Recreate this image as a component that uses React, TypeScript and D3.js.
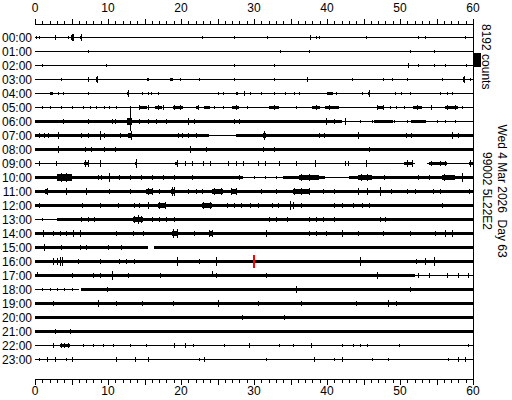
import React from 'react';
import * as d3 from 'd3';

const W = 512;
const H = 400;

const HOUR_LABELS = [
  '00:00', '01:00', '02:00', '03:00', '04:00', '05:00', '06:00', '07:00',
  '08:00', '09:00', '10:00', '11:00', '12:00', '13:00', '14:00', '15:00',
  '16:00', '17:00', '18:00', '19:00', '20:00', '21:00', '22:00', '23:00',
];
const MINUTE_TICKS = [0, 10, 20, 30, 40, 50, 60];
const SCALE_COUNTS = 8192;
const SCALE_TEXT = '8192 counts';
const DATE_TEXT = 'Wed 4 Mar 2026\u00a0 Day 63';
const STATION_TEXT = '99002 5L22E2';

// continuous trace segments per hour: [startMin, endMin, halfAmplitudeCounts]
const SEGMENTS: number[][][] = [
  [[0, 60, 290]],
  [[0, 60, 290]],
  [[0, 60, 290]],
  [[0, 60, 290]],
  [[0, 60, 290]],
  [[0, 19.5, 290], [19.5, 60, 585]],
  [[0, 42, 880], [42, 42.8, 290], [42.8, 60, 585]],
  [[0, 23.8, 880], [23.8, 27.5, 440], [27.5, 60, 880]],
  [[0, 40, 880], [40, 60, 700]],
  [[0, 40, 585], [40, 52.1, 440], [53.7, 60, 585]],
  [[0, 28.5, 880], [28.5, 34, 440], [34, 39.7, 880], [39.7, 43, 585], [43, 60, 880]],
  [[0, 60, 800]],
  [[0, 60, 880]],
  [[0, 3, 585], [3, 60, 880]],
  [[0, 60, 880]],
  [[0, 15.5, 880], [16.3, 60, 880]],
  [[0, 60, 800]],
  [[0, 52, 880], [52, 60, 585]],
  [[0, 6, 440], [6.3, 60, 880]],
  [[0, 60, 880]],
  [[0, 60, 800]],
  [[0, 40, 880], [40, 60, 700]],
  [[0, 60, 290]],
  [[0, 60, 290]],
];

// noisy bursts per hour: [startMin, endMin, halfAmplitudeCounts]
const BURSTS: number[][][] = [
  [[4.9, 5.2, 1200], [6.2, 6.4, 900]],
  [],
  [],
  [[8.4, 8.6, 1200], [15.4, 15.6, 800], [18.5, 18.9, 600], [58.6, 58.8, 1200]],
  [[2.0, 2.4, 700], [12.6, 12.8, 1100], [27.5, 27.8, 700], [40.0, 40.8, 600], [45.6, 45.8, 1100]],
  [[14.2, 15.3, 800], [16.5, 17.4, 700], [18.9, 20.3, 700], [22.0, 22.5, 800], [23.2, 24.0, 700], [27.0, 28.0, 700],
    [32.0, 33.4, 700], [38.0, 39.0, 800], [39.7, 41.6, 700], [46.8, 47.7, 700], [51.8, 53.0, 700], [56.2, 58.0, 700]],
  [[10.2, 11.1, 1100], [12.6, 13.3, 2300], [14.0, 15.5, 1000], [20.0, 22.5, 1000], [26.8, 28.0, 1000], [46.5, 49, 750], [51.5, 53.5, 750]],
  [[0.3, 2.0, 1000], [12.8, 13.3, 1400], [31.2, 31.7, 1200], [44.0, 44.5, 1100]],
  [[8.5, 12.7, 950], [20.8, 21.6, 1000], [28.5, 34.5, 950]],
  [[6.7, 7.3, 900], [13.7, 14.0, 1000], [19.2, 19.6, 1000], [50.6, 51.7, 900], [54.0, 56.5, 750], [59.4, 60, 1000]],
  [[3.0, 5.0, 1900], [19.7, 21.0, 1050], [36.2, 38.9, 1200], [44.3, 46.1, 1200], [52.0, 54.8, 1050], [55.8, 57.5, 1200]],
  [[1.4, 1.8, 1400], [4.1, 4.5, 1100], [15.2, 16.2, 1300], [18.6, 19.1, 1600], [21.0, 22.9, 1000], [24.3, 25.7, 1200],
    [26.8, 27.5, 1200], [35.3, 37.5, 1200], [43.8, 45.7, 1100], [50.7, 52.5, 1000], [53.9, 56.2, 1000]],
  [[13.3, 14.3, 1000], [16.9, 17.8, 1200], [22.9, 24.3, 1200], [32.3, 33.4, 1050], [40.6, 42, 1050]],
  [[4.4, 8.7, 980], [13.4, 14.8, 1400], [31.6, 35.3, 980], [37.1, 40.3, 980], [47.0, 48.5, 980], [52.0, 58.5, 980]],
  [[0.6, 1.4, 1100], [2.5, 4.3, 1000], [5.2, 6.1, 1100], [13.4, 14.8, 1050], [18.8, 19.4, 1600], [23.8, 24.4, 1200],
    [37.5, 39.8, 1050], [56.1, 57.2, 1100]],
  [[0.9, 1.5, 1100], [5.8, 7.1, 1000], [21.5, 29.3, 950], [31.3, 39.6, 950]],
  [],
  [[0, 0.4, 1100]],
  [],
  [],
  [],
  [],
  [[3.4, 4.8, 800], [10.7, 15.2, 585]],
  [],
];

// spikes per hour: [minute, upCounts, downCounts?]
const SPIKES: number[][][] = [
  [[0.2, 700], [0.6, 900], [2.8, 1200], [4.5, 900], [5.0, 2300], [5.2, 2000], [6.3, 1800], [22.9, 1000], [27.2, 1000],
    [31.8, 700], [37.7, 1200], [38.5, 700], [38.9, 700], [45.4, 1000], [52.5, 1000], [53.4, 1000], [58.9, 1000]],
  [[7.3, 800], [33.6, 900], [37.5, 700], [51.4, 700], [54.6, 700]],
  [[0.9, 1000], [9.7, 1000], [27.3, 700], [32.7, 1100], [51.1, 1400], [52.5, 700], [54.6, 800], [56.2, 800], [59.1, 800]],
  [[3.6, 1000], [7.3, 1500], [8.5, 2300], [15.5, 1000], [19.8, 1100], [22.5, 1000], [27.2, 1100], [32.7, 1000],
    [37.3, 1500], [43.4, 700], [47.7, 700], [48.9, 1100], [50.9, 1100], [55.7, 700], [58.7, 2300], [59.6, 700]],
  [[2.2, 1000], [3.2, 1000], [3.8, 1000], [7.3, 1000], [12.7, 2300], [14.6, 1000], [15.5, 1000], [15.9, 900],
    [16.8, 700], [25.0, 700], [25.7, 700], [27.7, 1100], [28.6, 1700], [29.5, 700], [30.9, 700], [32.7, 1100],
    [34.3, 1000], [35.5, 1000], [36.2, 1000], [40.2, 1000], [40.6, 1000], [41.3, 700], [44.8, 1100], [45.7, 2300],
    [49.3, 700], [50.2, 1000], [51.4, 700], [55.5, 700], [56.4, 1000], [57.1, 700]],
  [[0.9, 1000], [2.0, 1000], [3.6, 1000], [5.0, 1000], [6.6, 1000], [7.5, 1000], [8.4, 1000], [9.5, 1000],
    [10.2, 900], [11.1, 1000], [14.3, 1700], [15.5, 1400], [16.8, 1200], [17.5, 1200], [19.1, 1200], [19.8, 1200],
    [22.3, 1700], [24.5, 1000], [25.7, 1000], [27.5, 1200], [29.0, 1000], [32.7, 1200], [35.7, 1000], [38.5, 1700],
    [40.3, 1200], [46.9, 1200], [47.7, 1400], [48.6, 1000], [49.5, 1000], [50.5, 1000], [52.3, 1200], [54.3, 1700],
    [56.5, 1200], [57.5, 1200], [58.5, 900]],
  [[3.8, 1200], [7.3, 1200], [8.6, 1100], [10.5, 1700], [11.0, 1500], [13.0, 9070, 5850], [14.3, 1200], [15.5, 1200],
    [16.6, 1200], [18.0, 1200], [20.9, 1800], [21.8, 1200], [27.3, 1200], [28.0, 1200], [39.8, 1800], [41.0, 1200],
    [42.5, 1800], [44.5, 1000], [46.1, 1000], [48.0, 1000], [49.2, 1000], [51.0, 1000], [52.8, 1000], [55.0, 1000],
    [56.2, 1000], [57.5, 1000]],
  [[0.6, 1200], [1.2, 1200], [1.8, 1200], [3.2, 1800], [6.3, 1200], [7.2, 1200], [8.9, 2400], [9.5, 1200],
    [11.6, 1200], [13.1, 2400], [19.6, 1200], [20.2, 1200], [21.0, 1200], [22.0, 1200], [31.4, 2400], [38.9, 1200],
    [39.6, 1200], [44.3, 1800], [50.8, 1200], [51.5, 1200], [57.1, 1800], [58.0, 1200]],
  [[3.2, 1800], [6.8, 1200], [7.7, 1200], [8.6, 1000], [9.4, 1200], [10.2, 1000], [11.0, 1200], [11.8, 1000],
    [12.6, 1000], [21.3, 1800], [23.4, 1200], [28.0, 1000], [29.5, 1000], [30.4, 1000], [31.2, 1200], [32.0, 1000],
    [32.8, 1200], [33.7, 1000], [34.5, 1000], [45.7, 1200], [48.9, 1000], [51.1, 1000], [53.4, 1000], [55.2, 1000]],
  [[0.6, 1200], [2.9, 1200], [6.8, 1800], [7.3, 1800], [8.9, 1800], [13.9, 2400], [19.4, 1800], [20.5, 1200],
    [21.5, 1200], [23.0, 1200], [24.0, 1200], [26.5, 1200], [27.5, 1200], [28.5, 1200], [30.5, 1200], [31.5, 1200],
    [33.4, 1200], [35.7, 1200], [38.4, 1800], [42.5, 1200], [42.9, 1200], [45.4, 1800], [50.9, 1800], [51.6, 1800],
    [54.3, 1200], [55.5, 1200], [56.2, 1200], [59.6, 1800]],
  [[3.5, 2400], [4.3, 2400], [8.6, 1200], [9.0, 1200], [10.2, 2400], [11.5, 1200], [13.0, 1200], [14.5, 1200],
    [16.0, 1200], [17.5, 1200], [19.0, 1200], [21.5, 1200], [28.0, 1200], [30.0, 900], [31.5, 900], [33.0, 900],
    [36.5, 1800], [37.5, 1800], [38.5, 1500], [44.6, 1800], [45.5, 1800], [47.8, 1200], [52.5, 1200], [54.0, 1200],
    [56.0, 1800], [57.0, 1500], [58.5, 2400]],
  [[1.6, 1800], [4.3, 1800], [7.0, 1800], [10.2, 1200], [13.0, 1200], [15.5, 1800], [16.0, 1800], [17.0, 1200],
    [18.7, 2900], [19.0, 2400], [21.0, 1200], [22.0, 1200], [22.9, 1200], [24.5, 1800], [25.5, 1800], [26.8, 1800],
    [27.5, 1800], [30.9, 1200], [33.0, 1200], [35.5, 1800], [36.5, 1800], [37.5, 1800], [39.4, 1200], [41.0, 1200],
    [44.3, 1800], [45.5, 1800], [47.3, 2900], [48.8, 1200], [51.0, 1500], [52.0, 1500], [54.5, 1500], [55.5, 1500],
    [59.5, 1200]],
  [[0.5, 1200], [6.4, 1200], [8.9, 1200], [11.4, 1200], [13.5, 1200], [14.2, 1200], [15.5, 1800], [17.0, 1800],
    [17.8, 1800], [23.0, 1800], [24.0, 1800], [26.3, 1200], [27.3, 1200], [28.2, 1200], [29.5, 1200], [30.5, 1200],
    [32.5, 1200], [33.3, 1200], [34.9, 2400], [35.3, 2000], [36.5, 1200], [41.0, 1200], [42.0, 1200], [43.6, 1200],
    [44.8, 1200], [45.7, 1200], [55.7, 1200]],
  [[1.0, 1000], [4.8, 1000], [6.3, 1200], [7.2, 1200], [8.1, 1200], [9.0, 1000], [11.2, 1000], [13.6, 1800],
    [14.1, 2900], [14.5, 1800], [16.0, 1200], [17.0, 1200], [18.0, 1200], [19.0, 1200], [21.5, 1000], [23.0, 1000],
    [24.5, 1000], [25.5, 1000], [27.0, 1000], [32.0, 1200], [33.0, 1200], [34.5, 1200], [37.5, 1200], [38.5, 1200],
    [39.5, 1200], [40.9, 1200], [47.2, 1200], [48.0, 1200], [52.5, 1100], [54.0, 1100], [55.5, 1100], [57.0, 1100]],
  [[1.1, 1800], [2.5, 1200], [3.4, 1200], [4.3, 1200], [5.2, 1800], [6.1, 1800], [11.1, 1200], [13.4, 1200],
    [14.8, 1200], [18.9, 2900], [19.4, 2400], [21.8, 1200], [23.8, 1800], [24.3, 1800], [31.6, 1800], [37.5, 1200],
    [38.5, 1200], [39.8, 1200], [42.0, 1800], [44.3, 1200], [47.7, 1200], [51.4, 1200], [54.8, 1200], [56.2, 1800],
    [57.1, 1800]],
  [[1.3, 1800], [3.6, 1200], [6.1, 1200], [7.0, 1200], [10.0, 1200], [11.8, 1200], [17.5, 900], [18.3, 900],
    [19.0, 900], [20.5, 900], [21.5, 1000], [22.3, 1000], [23.0, 1000], [23.8, 1000], [24.5, 1000], [25.3, 1000],
    [26.0, 1000], [26.8, 1000], [27.6, 1000], [28.5, 1000], [29.1, 1000], [31.5, 1000], [32.3, 1000], [33.0, 1000],
    [33.8, 1000], [34.5, 1000], [35.3, 1000], [36.0, 1000], [36.8, 1000], [37.5, 1000], [38.4, 1000], [39.2, 1000],
    [41.0, 1000], [42.5, 1000], [44.0, 1000], [46.0, 1000], [48.0, 1000], [56.5, 1000], [58.0, 1000]],
  [[2.5, 1800], [3.0, 1800], [3.4, 2900], [3.7, 2900], [5.9, 1200], [8.9, 1200], [11.5, 1200], [12.5, 1200],
    [13.5, 1200], [19.4, 2400], [22.5, 1200], [24.8, 2400], [26.3, 1000], [27.0, 1000], [27.7, 1000], [33.6, 1000],
    [35.8, 1000], [37.9, 1000], [40.0, 1000], [44.5, 2400], [52.2, 1200], [53.4, 1800], [54.6, 2400], [56.0, 1000],
    [58.2, 1000]],
  [[0.3, 1800, 300], [5.0, 1200], [8.0, 1200], [8.9, 1200], [10.5, 2400], [12.7, 1200], [14.0, 1000], [17.1, 1200],
    [24.3, 2900, 300], [24.8, 1200], [31.6, 1200], [36.0, 1000], [38.5, 1000], [40.0, 1000], [43.0, 1000],
    [46.8, 1800], [48, 1000], [49.5, 1000], [52.5, 1200], [54, 1200], [56.5, 1200], [58, 1200], [59.3, 1200]],
  [[1.0, 800], [2.0, 800], [3.0, 800], [4.0, 800], [5.0, 800], [9.8, 1200], [12.5, 1000], [15.6, 1000], [19.0, 1000],
    [35.7, 1800], [51.4, 1200], [53.0, 1000]],
  [[2.5, 1200], [8.6, 1800], [11.1, 1200], [14.6, 1200], [18.9, 1200], [25.0, 1800], [30.5, 1200], [36.4, 1200],
    [44.0, 1200], [48.4, 1800], [49.5, 1200]],
  [[0.5, 1000], [2, 1000], [3.5, 1000], [5, 1000], [6.5, 1000], [8, 1000], [9.5, 1000], [12.2, 1000], [14.5, 1000],
    [16, 1000], [18, 1000], [28.4, 1200], [34.1, 1200], [42.5, 1000], [50, 1000]],
  [[2.7, 1200], [4.8, 1200], [20.5, 900], [22.5, 900], [24.5, 900], [27, 900], [30, 900], [33, 900], [36, 900],
    [41, 900], [44, 900], [47, 900], [52, 900]],
  [[2.5, 1200], [3.6, 1200], [4.0, 1400], [4.5, 1200], [6.6, 900], [7.9, 900], [9.3, 900], [10.7, 700], [13.0, 900],
    [15.2, 700], [19.0, 1200], [20.6, 1200], [21.7, 900], [25.9, 900], [29.3, 1200], [33.4, 900], [35.3, 900],
    [37.8, 1200], [42.0, 1000], [43.5, 1000], [44.5, 1000], [45.5, 1000], [49.8, 1000], [59.3, 1000]],
  [[0.5, 800], [1.6, 1200], [2.7, 1200], [4.3, 900], [5.0, 1200], [11.1, 1200], [13.7, 1200], [15.5, 1200],
    [22.5, 900], [23.2, 1200], [31.6, 900], [38.2, 1200], [40.9, 900], [42.0, 1200], [46.1, 900], [48.4, 900],
    [56.6, 900], [58.0, 1200], [58.9, 1200]],
];

// event picks: [hour, minute, halfAmplitudeCounts]
const MARKERS: number[][] = [[16, 30, 3800]];

const FONT = "'Liberation Sans', Arial, Helvetica, sans-serif";

export default function App() {
  const x = d3.scaleLinear().domain([0, 60]).range([35, 473]);
  const row = d3.scaleLinear().domain([0, 23]).range([37.5, 359.5]);
  const amp = d3.scaleLinear().domain([0, SCALE_COUNTS]).range([0, 14]);

  const top = 24;
  const bottom = 379;
  const minuteTicks = d3.range(0, 61);

  return (
    <svg
      width={W}
      height={H}
      style={{ position: 'absolute', left: 0, top: 0, background: '#fff' }}
      fontFamily={FONT}
    >
      <rect x={0} y={0} width={W} height={H} fill="#fff" />

      {/* axes */}
      <g shapeRendering="crispEdges" stroke="#000" strokeWidth={1}>
        <line x1={x(0)} x2={x(60)} y1={top + 0.5} y2={top + 0.5} />
        {minuteTicks.map((m) => (
          <line key={'t' + m} x1={Math.round(x(m)) + 0.5} x2={Math.round(x(m)) + 0.5}
            y1={top + 0.5} y2={top - (m % 5 === 0 ? 5 : 3)} />
        ))}
        <line x1={x(0)} x2={x(60)} y1={bottom + 0.5} y2={bottom + 0.5} />
        {minuteTicks.map((m) => (
          <line key={'b' + m} x1={Math.round(x(m)) + 0.5} x2={Math.round(x(m)) + 0.5}
            y1={bottom + 0.5} y2={bottom + 1 + (m % 5 === 0 ? 5 : 3)} />
        ))}
        <line x1={Math.round(x(60)) + 0.5} x2={Math.round(x(60)) + 0.5} y1={top} y2={bottom + 1} />
      </g>
      {MINUTE_TICKS.map((m) => (
        <g key={'l' + m} fontSize={12} textAnchor="middle" fill="#000">
          <text x={x(m)} y={12}>{m}</text>
          <text x={x(m)} y={395}>{m}</text>
        </g>
      ))}

      {/* hour labels */}
      {HOUR_LABELS.map((lab, h) => (
        <text key={lab} x={32} y={row(h) + 4.5} fontSize={12} textAnchor="end" fill="#000">{lab}</text>
      ))}

      {/* traces */}
      <g shapeRendering="crispEdges" fill="#000">
        {HOUR_LABELS.map((lab, h) => (
          <g key={'tr' + h}>
            {SEGMENTS[h].map((s, i) => (
              <rect key={'s' + i} x={x(s[0])} width={x(s[1]) - x(s[0])}
                y={row(h) - amp(s[2])} height={2 * amp(s[2])} />
            ))}
            {BURSTS[h].map((b, i) => (
              <rect key={'b' + i} x={x(b[0])} width={Math.max(1, x(b[1]) - x(b[0]))}
                y={row(h) - amp(b[2])} height={2 * amp(b[2])} />
            ))}
            {SPIKES[h].map((p, i) => {
              const up = amp(p[1]);
              const down = amp(p.length > 2 ? p[2] : p[1]);
              return (
                <rect key={'p' + i} x={Math.round(x(p[0]))} width={1}
                  y={row(h) - up} height={up + down} />
              );
            })}
          </g>
        ))}
      </g>

      {/* event picks */}
      <g shapeRendering="crispEdges" fill="#ff0000">
        {MARKERS.map((mk, i) => (
          <rect key={'m' + i} x={x(mk[1]) - 1} width={2}
            y={row(mk[0]) - amp(mk[2])} height={2 * amp(mk[2])} />
        ))}
      </g>

      {/* amplitude scale bar */}
      <rect x={474} y={53} width={7} height={amp(SCALE_COUNTS)} fill="#000" shapeRendering="crispEdges" />
      <text transform="translate(482,24) rotate(90)" fontSize={12} fill="#000">{SCALE_TEXT}</text>
      <text transform="translate(497.5,191) rotate(90)" fontSize={12} fill="#000" textAnchor="middle">{DATE_TEXT}</text>
      <text transform="translate(483,191) rotate(90)" fontSize={12} fill="#000" textAnchor="middle">{STATION_TEXT}</text>
    </svg>
  );
}
